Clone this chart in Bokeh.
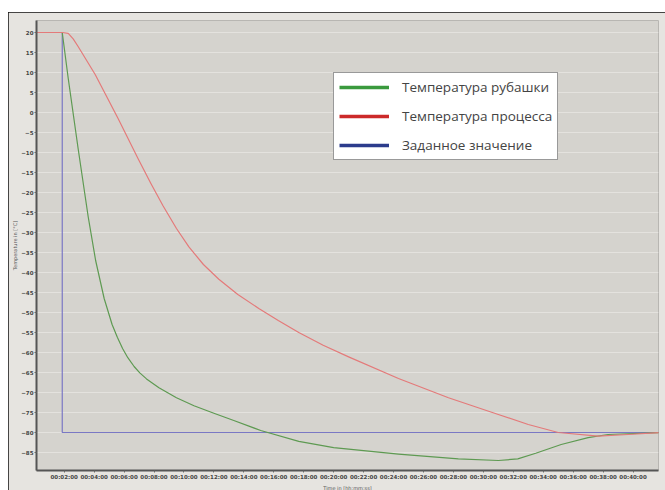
from bokeh.plotting import figure
from bokeh.models import FixedTicker, Legend, LegendItem, Title
from bokeh.embed import file_html
from bokeh.resources import INLINE

# ---- data (time in minutes, temperature in °C) ----
green_t = [0, 1.87, 2.27, 2.93, 3.6, 4.1, 4.67, 5.2, 5.55, 5.9, 6.25, 6.67, 7.05, 7.5,
           8.33, 9.5, 10.67, 12.0, 13.33, 15.13, 17.67, 20.0, 24.33, 28.33, 31.0,
           32.3, 33.5, 35.2, 37.0, 38.33, 41.8]
green_v = [20, 20, 8.5, -9, -26, -37, -46.5, -53, -56.2, -59, -61.3, -63.5, -65.1, -66.6,
           -68.8, -71.3, -73.3, -75.2, -77, -79.5, -82.2, -83.8, -85.4, -86.6, -87,
           -86.6, -85.2, -83, -81.3, -80.5, -80]

red_t = [0, 1.9, 2.27, 2.6, 2.93, 4.07, 5.6, 6.93, 7.8, 8.6, 9.5, 10.33, 11.3, 12.33,
         13.6, 15.0, 16.3, 17.67, 19.3, 21.0, 24.33, 27.67, 31.0, 33.0, 35.0, 37.67,
         39.67, 41.8]
red_v = [20, 20, 19.8, 18.4, 16.5, 9.5, -1.5, -11.5, -17.8, -23.3, -29, -33.6, -38.0,
         -41.7, -45.5, -49.0, -52.0, -55.0, -58.2, -61.1, -66.5, -71.3, -75.5, -78,
         -80, -80.9, -80.5, -80]

blue_t = [0, 1.87, 1.87, 41.8]
blue_v = [20, 20, -80, -80]

x_ticks = [0, 2, 4, 6, 8, 10, 12, 14, 16, 18, 20, 22, 24, 26, 28, 30, 32, 34, 36, 38, 40]
x_tick_labels = ["00:00:00", "00:02:00", "00:04:00", "00:06:00", "00:08:00", "00:10:00",
                 "00:12:00", "00:14:00", "00:16:00", "00:18:00", "00:20:00", "00:22:00",
                 "00:24:00", "00:26:00", "00:28:00", "00:30:00", "00:32:00", "00:34:00",
                 "00:36:00", "00:38:00", "00:40:00"]
y_ticks = [20, 15, 10, 5, 0, -5, -10, -15, -20, -25, -30, -35, -40, -45, -50, -55,
           -60, -65, -70, -75, -80, -85]

series_names = ["Температура рубашки", "Температура процесса", "Заданное значение"]
x_title = "Time in [hh:mm:ss]"
y_title = "Temperature in [°C]"

nan = float("nan")

p = figure(width=657, height=478, output_backend="svg", toolbar_location=None,
           x_range=(0.15, 41.7), y_range=(-89.5, 23),
           min_border_left=28, min_border_right=7, min_border_top=8,
           min_border_bottom=20)
p.margin = (12, 0, 0, 8)
p.styles = {"outline": "1px solid #111", "outline-offset": "-1px"}

p.background_fill_color = "#d5d3ce"
p.border_fill_color = "#e6e4e0"
p.outline_line_color = "#b8b6b2"

p.xgrid.grid_line_color = None
p.ygrid.grid_line_color = "#e4e2de"
p.ygrid.grid_line_width = 1

p.xaxis.ticker = FixedTicker(ticks=x_ticks)
p.xaxis.major_label_overrides = dict(zip(x_ticks, x_tick_labels))
p.yaxis.ticker = FixedTicker(ticks=y_ticks)
p.ygrid.ticker = FixedTicker(ticks=y_ticks)

for ax in (p.xaxis[0], p.yaxis[0]):
    ax.axis_line_color = "#555555"
    ax.axis_line_width = 2
    ax.major_tick_line_color = "#666666"
    ax.major_tick_out = 2
    ax.major_tick_in = 0
    ax.minor_tick_line_color = None
    ax.major_label_text_font = "DejaVu Sans"
    ax.major_label_text_font_size = "5.5px"
    ax.major_label_text_font_style = "bold"
    ax.major_label_text_color = "#444444"
    ax.axis_label_text_font = "DejaVu Sans"
    ax.axis_label_text_font_size = "5px"
    ax.axis_label_text_font_style = "normal"
    ax.axis_label_text_color = "#555555"

p.xaxis.major_label_standoff = 1
p.yaxis.major_label_standoff = 1
p.yaxis.axis_label = y_title
p.yaxis.axis_label_standoff = 0

# x-axis title under the tick labels
xt = Title(text=x_title, align="center", text_font="DejaVu Sans",
           text_font_size="5px", text_font_style="normal", text_color="#555555",
           standoff=0, offset=0)
p.add_layout(xt, "below")

p.line(blue_t, blue_v, line_color="#7a78c4", line_width=1.2)
p.line(green_t, green_v, line_color="#5e9a52", line_width=1.2, line_join="round")
p.line(red_t, red_v, line_color="#e47a7a", line_width=1.2, line_join="round")

# legend samples (drawn thicker, like the original legend)
lg = p.line([nan, nan], [nan, nan], line_color="#3a9a3e", line_width=3.5)
lr = p.line([nan, nan], [nan, nan], line_color="#cc2a2a", line_width=3.5)
lb = p.line([nan, nan], [nan, nan], line_color="#2c3c8c", line_width=3.5)

legend = Legend(items=[LegendItem(label=series_names[0], renderers=[lg]),
                       LegendItem(label=series_names[1], renderers=[lr]),
                       LegendItem(label=series_names[2], renderers=[lb])],
                location=(297, 310))
legend.background_fill_color = "white"
legend.background_fill_alpha = 1
legend.border_line_color = "#333333"
legend.border_line_width = 1
legend.label_text_font = "Open Sans"
legend.label_text_font_size = "13.5px"
legend.label_text_color = "#444444"
legend.glyph_width = 50
legend.glyph_height = 14
legend.label_height = 14
legend.spacing = 11
legend.padding = 5
legend.margin = 0
legend.label_standoff = 13
p.add_layout(legend, "center")

open("out.html", "w").write(file_html(p, INLINE))
